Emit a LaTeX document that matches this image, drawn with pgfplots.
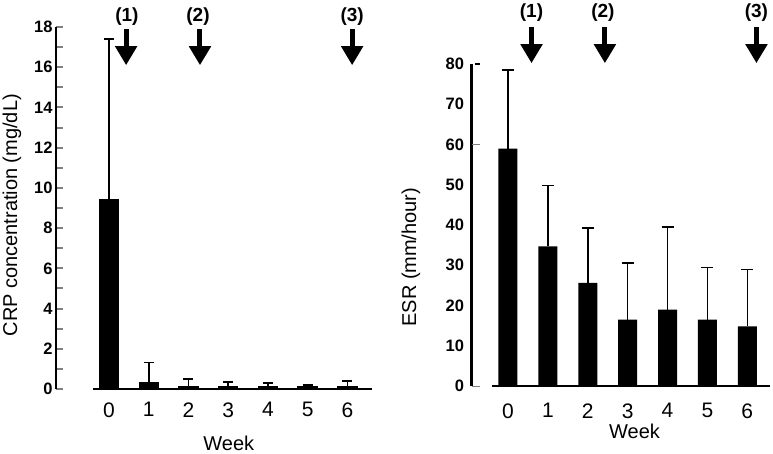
\documentclass[border=0pt]{standalone}
\usepackage{fontspec}
\setmainfont{Liberation Sans}
\usepackage{pgfplots}
\pgfplotsset{compat=1.18}
\usetikzlibrary{arrows.meta}

\tikzset{
  arr/.style={line width=5pt, -{Triangle[width=21pt,length=19pt]}},
  arrlab/.style={font=\bfseries\fontsize{19}{19}\selectfont},
}
\pgfplotsset{
  common/.style={
    scale only axis,
    axis lines*=left,
    x axis line style={draw=none},
    y axis line style={line width=2.5pt},
    clip=false,
    xtick={0,1,...,6},
    x tick style={draw=none},
    major x tick style={draw=none},
    tick align=inside,
    /pgf/number format/assume math mode=true,
    xticklabel style={font=\fontsize{21}{21}\selectfont},
    yticklabel style={font=\bfseries\fontsize{16.5}{16.5}\selectfont},
    label style={font=\fontsize{20}{20}\selectfont},
    ylabel style={anchor=center, rotate=0},
    xlabel style={anchor=center},
  },
}

\begin{document}
\begin{tikzpicture}[x=1pt,y=1pt]
\useasboundingbox (0,0) rectangle (773,453);

% ---------- left panel: CRP ----------
\begin{axis}[common,
  at={(56pt,64pt)}, anchor=south west,
  width=316pt, height=362pt,
  xmin=-1.335, xmax=6.62, ymin=0, ymax=18,
  ytick={0,2,...,18}, minor ytick={1,3,...,17},
  y tick style={line width=2pt},
  major tick length=7pt, minor tick length=7pt,
  xticklabel style={yshift=-10pt},
  xlabel={Week}, ylabel={CRP concentration (mg/dL)},
  xlabel style={at={(rel axis cs:0.547,-0.149)}},
  ylabel style={at={(rel axis cs:-0.139,0.48)}},
]
\addplot[ybar, bar width=18pt, fill=black, draw=black, line width=2.5pt,
  error bars/.cd, y dir=plus, y explicit,
  error bar style={line width=1.5pt, black},
  error mark options={rotate=90, line width=1.5pt, mark size=5pt, black}]
  coordinates {
  (0,9.40) +- (0,8.00)
  (1,0.31) +- (0,1.00)
  (2,0.10) +- (0,0.40)
  (3,0.08) +- (0,0.28)
  (4,0.08) +- (0,0.23)
  (5,0.07) +- (0,0.13)
  (6,0.10) +- (0,0.31)
  };
\draw[line width=2.5pt] (axis cs:-0.40,0) -- (axis cs:6.62,0);
\draw[arr] (axis cs:0.43,17.9) -- (axis cs:0.43,16.1);
\draw[arr] (axis cs:2.29,17.9) -- (axis cs:2.29,16.1);
\draw[arr] (axis cs:6.12,17.9) -- (axis cs:6.12,16.1);
\node[arrlab] at (axis cs:0.45,18.52) {(1)};
\node[arrlab] at (axis cs:2.24,18.52) {(2)};
\node[arrlab] at (axis cs:6.12,18.52) {(3)};
\end{axis}

% ---------- right panel: ESR ----------
\begin{axis}[common,
  at={(471.5pt,67pt)}, anchor=south west,
  width=298.5pt, height=322pt,
  xmin=-0.915, xmax=6.57, ymin=0, ymax=80,
  ytick={0,10,...,80},
  major tick length=0pt,
  extra y ticks={0,60}, extra y tick labels={},
  extra y tick style={major tick length=8pt, line width=2.5pt},
  yticklabel style={xshift=-4pt},
  xticklabel style={yshift=-14pt},
  xlabel={Week}, ylabel={ESR (mm/hour)},
  xlabel style={at={(rel axis cs:0.546,-0.14)}},
  ylabel style={at={(rel axis cs:-0.203,0.40)}},
]
\addplot[ybar, bar width=19pt, fill=black, draw=none,
  error bars/.cd, y dir=plus, y explicit,
  error bar style={line width=1.5pt, black},
  error mark options={rotate=90, line width=1.5pt, mark size=6pt, black}]
  coordinates {
  (0,59.0) +- (0,19.5)
  (1,34.7) +- (0,15.1)
  (2,25.6) +- (0,13.7)
  (3,16.5) +- (0,14.0)
  (4,19.0) +- (0,20.5)
  (5,16.5) +- (0,13.0)
  (6,14.8) +- (0,14.1)
  };
\draw[line width=2.5pt] (axis cs:-0.40,0) -- (axis cs:6.57,0);
\draw[line width=2.5pt] ([xshift=3.5pt]axis cs:-0.915,80) -- ([xshift=8.5pt]axis cs:-0.915,80);
\draw[arr] (axis cs:0.59,89.2) -- (axis cs:0.59,80.2);
\draw[arr] (axis cs:2.43,89.2) -- (axis cs:2.43,80.2);
\draw[arr] (axis cs:6.23,89.2) -- (axis cs:6.23,80.2);
\node[arrlab] at (axis cs:0.59,92.7) {(1)};
\node[arrlab] at (axis cs:2.38,92.7) {(2)};
\node[arrlab] at (axis cs:6.23,92.7) {(3)};
\end{axis}
\end{tikzpicture}
\end{document}
